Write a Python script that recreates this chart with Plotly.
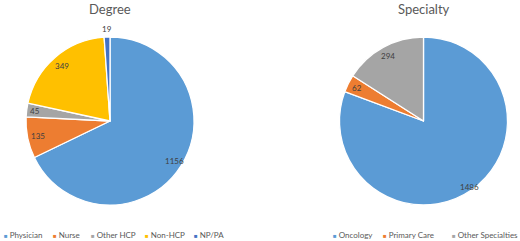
import numpy as np
import plotly.graph_objects as go

W, H = 520, 241

degree_labels = ["Physician", "Nurse", "Other HCP", "Non-HCP", "NP/PA"]
degree_values = [1156, 135, 45, 349, 19]
degree_colors = ["#5B9BD5", "#ED7D31", "#A5A5A5", "#FFC000", "#4472C4"]

spec_labels = ["Oncology", "Primary Care", "Other Specialties"]
spec_values = [1486, 62, 294]
spec_colors = ["#5B9BD5", "#ED7D31", "#A5A5A5"]

FONT = "Lato, Calibri, Carlito, sans-serif"
TXT = "#404040"

# pie geometry (pixels)
R = 84
degree_c = (110, 121)
spec_c = (423.5, 121)


def px2paper(x, y):
    return x / W, (H - y) / H


def dom(c):
    cx, cy = c
    x0, y0 = px2paper(cx - R, cy + R)
    x1, y1 = px2paper(cx + R, cy - R)
    return dict(x=[x0, x1], y=[y0, y1])


fig = go.Figure()
for labels, values, colors, c in [
    (degree_labels, degree_values, degree_colors, degree_c),
    (spec_labels, spec_values, spec_colors, spec_c),
]:
    fig.add_trace(go.Pie(
        labels=labels, values=values, sort=False, direction="clockwise", rotation=0,
        marker=dict(colors=colors, line=dict(color="white", width=1.3)),
        textinfo="none", hoverinfo="label+value", showlegend=False,
        domain=dom(c),
    ))

annotations = []


def add_value_labels(values, c, fracs):
    vals = np.array(values, dtype=float)
    cum = np.cumsum(vals) - vals / 2
    ang = cum / vals.sum() * 2 * np.pi
    cx, cy = c
    for v, a, f in zip(values, ang, fracs):
        x, y = px2paper(cx + R * f * np.sin(a), cy - R * f * np.cos(a))
        annotations.append(dict(
            x=x, y=y, xref="paper", yref="paper", text=str(v),
            showarrow=False, font=dict(family=FONT, size=8, color=TXT),
            xanchor="center", yanchor="middle"))


add_value_labels(degree_values, degree_c, [0.9, 0.88, 0.9, 0.87, 1.1])
add_value_labels(spec_values, spec_c, [0.96, 0.89, 0.88])

# titles
for t, c in [("Degree", degree_c), ("Specialty", spec_c)]:
    x, y = px2paper(c[0], 9)
    annotations.append(dict(
        x=x, y=y, xref="paper", yref="paper", text=t,
        showarrow=False, font=dict(family=FONT, size=13, color="#595959"),
        xanchor="center", yanchor="middle"))


# legends: colored square + label
def add_legend(labels, colors, xs):
    for lab, col, xp in zip(labels, colors, xs):
        x, y = px2paper(xp, 235)
        annotations.append(dict(
            x=x, y=y, xref="paper", yref="paper",
            text=f"<span style='color:{col};font-size:6px'>■</span> {lab}",
            showarrow=False, font=dict(family=FONT, size=8, color="#595959"),
            xanchor="left", yanchor="middle"))


add_legend(degree_labels, degree_colors, [2, 51, 89, 143, 192])
add_legend(spec_labels, spec_colors, [331, 381, 450])

fig.update_layout(
    width=W, height=H, margin=dict(l=0, r=0, t=0, b=0),
    paper_bgcolor="white", plot_bgcolor="white",
    annotations=annotations, showlegend=False,
)

fig.write_html("out.html", config={"displayModeBar": False},
               post_script="document.body.style.margin='0';document.body.style.overflow='hidden';")
